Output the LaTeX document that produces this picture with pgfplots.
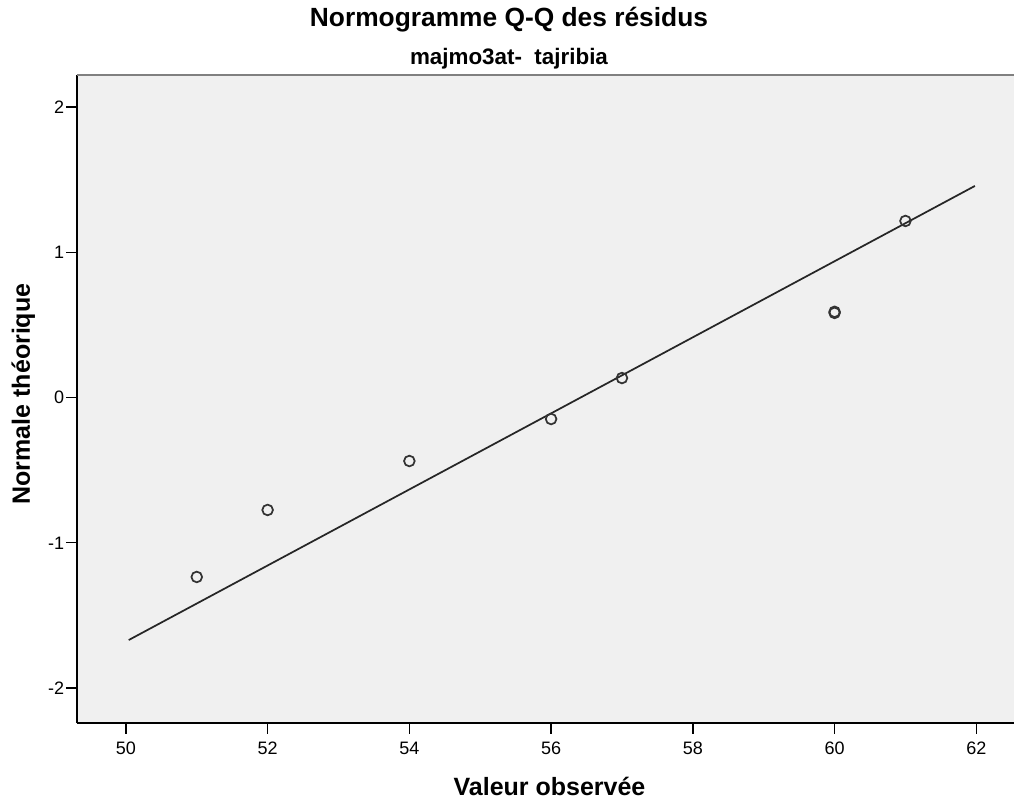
\documentclass[border=0pt]{standalone}
\usepackage{fontspec}
\setmainfont{Liberation Sans}
\usepackage{pgfplots}
\pgfplotsset{compat=1.18}
\definecolor{bggray}{HTML}{F0F0F0}
\begin{document}
\begin{tikzpicture}
\path[use as bounding box] (-57.75pt,-58.5pt) rectangle (702.75pt,542.25pt);
\begin{axis}[
  at={(0,0)}, anchor=south west, scale only axis,
  width=704.25pt, height=486pt,
  xmin=49.31, xmax=62.56, ymin=-2.240, ymax=2.2195,
  xtick={50,52,...,62}, ytick={-2,-1,0,1,2},
  minor tick num=0,
  tick align=outside, major tick length=8pt,
  tick style={black, line width=1pt},
  axis x line*=bottom, axis y line*=left,
  axis line style={black, line width=1.1pt},
  axis background/.style={fill=bggray},
  /pgf/number format/assume math mode=true,
  tick label style={font=\fontsize{13.5}{16}\selectfont, inner sep=0pt},
  xticklabel style={anchor=base, yshift=-15.5pt},
  yticklabel style={anchor=east, xshift=-1.5pt},
  clip=false,
]
\draw[gray, line width=1.5pt] (rel axis cs:0,1) -- (rel axis cs:1,1);
\addplot[black!85, line width=1.3pt] coordinates {(50.04,-1.669) (61.98,1.456)};
\addplot[only marks, mark=o, mark size=4pt, mark options={line width=1.3pt, draw=black!80}]
  coordinates {(51,-1.235) (52,-0.774) (54,-0.437) (56,-0.148) (57,0.134) (60,0.582) (60,0.590) (61,1.215)};
\end{axis}
\node[anchor=base, font=\bfseries\fontsize{19.75}{24}\selectfont] at (324pt,522pt) {Normogramme Q-Q des résidus};
\node[anchor=base, font=\bfseries\fontsize{16.8}{20}\selectfont] at (324pt,493.5pt) {majmo3at-\ \ tajribia};
\node[anchor=base, font=\bfseries\fontsize{18.75}{22}\selectfont] at (354.4pt,-54pt) {Valeur observée};
\node[anchor=base, rotate=90, font=\bfseries\fontsize{18.75}{22}\selectfont] at (-35.25pt,246.75pt) {Normale théorique};
\end{tikzpicture}
\end{document}
